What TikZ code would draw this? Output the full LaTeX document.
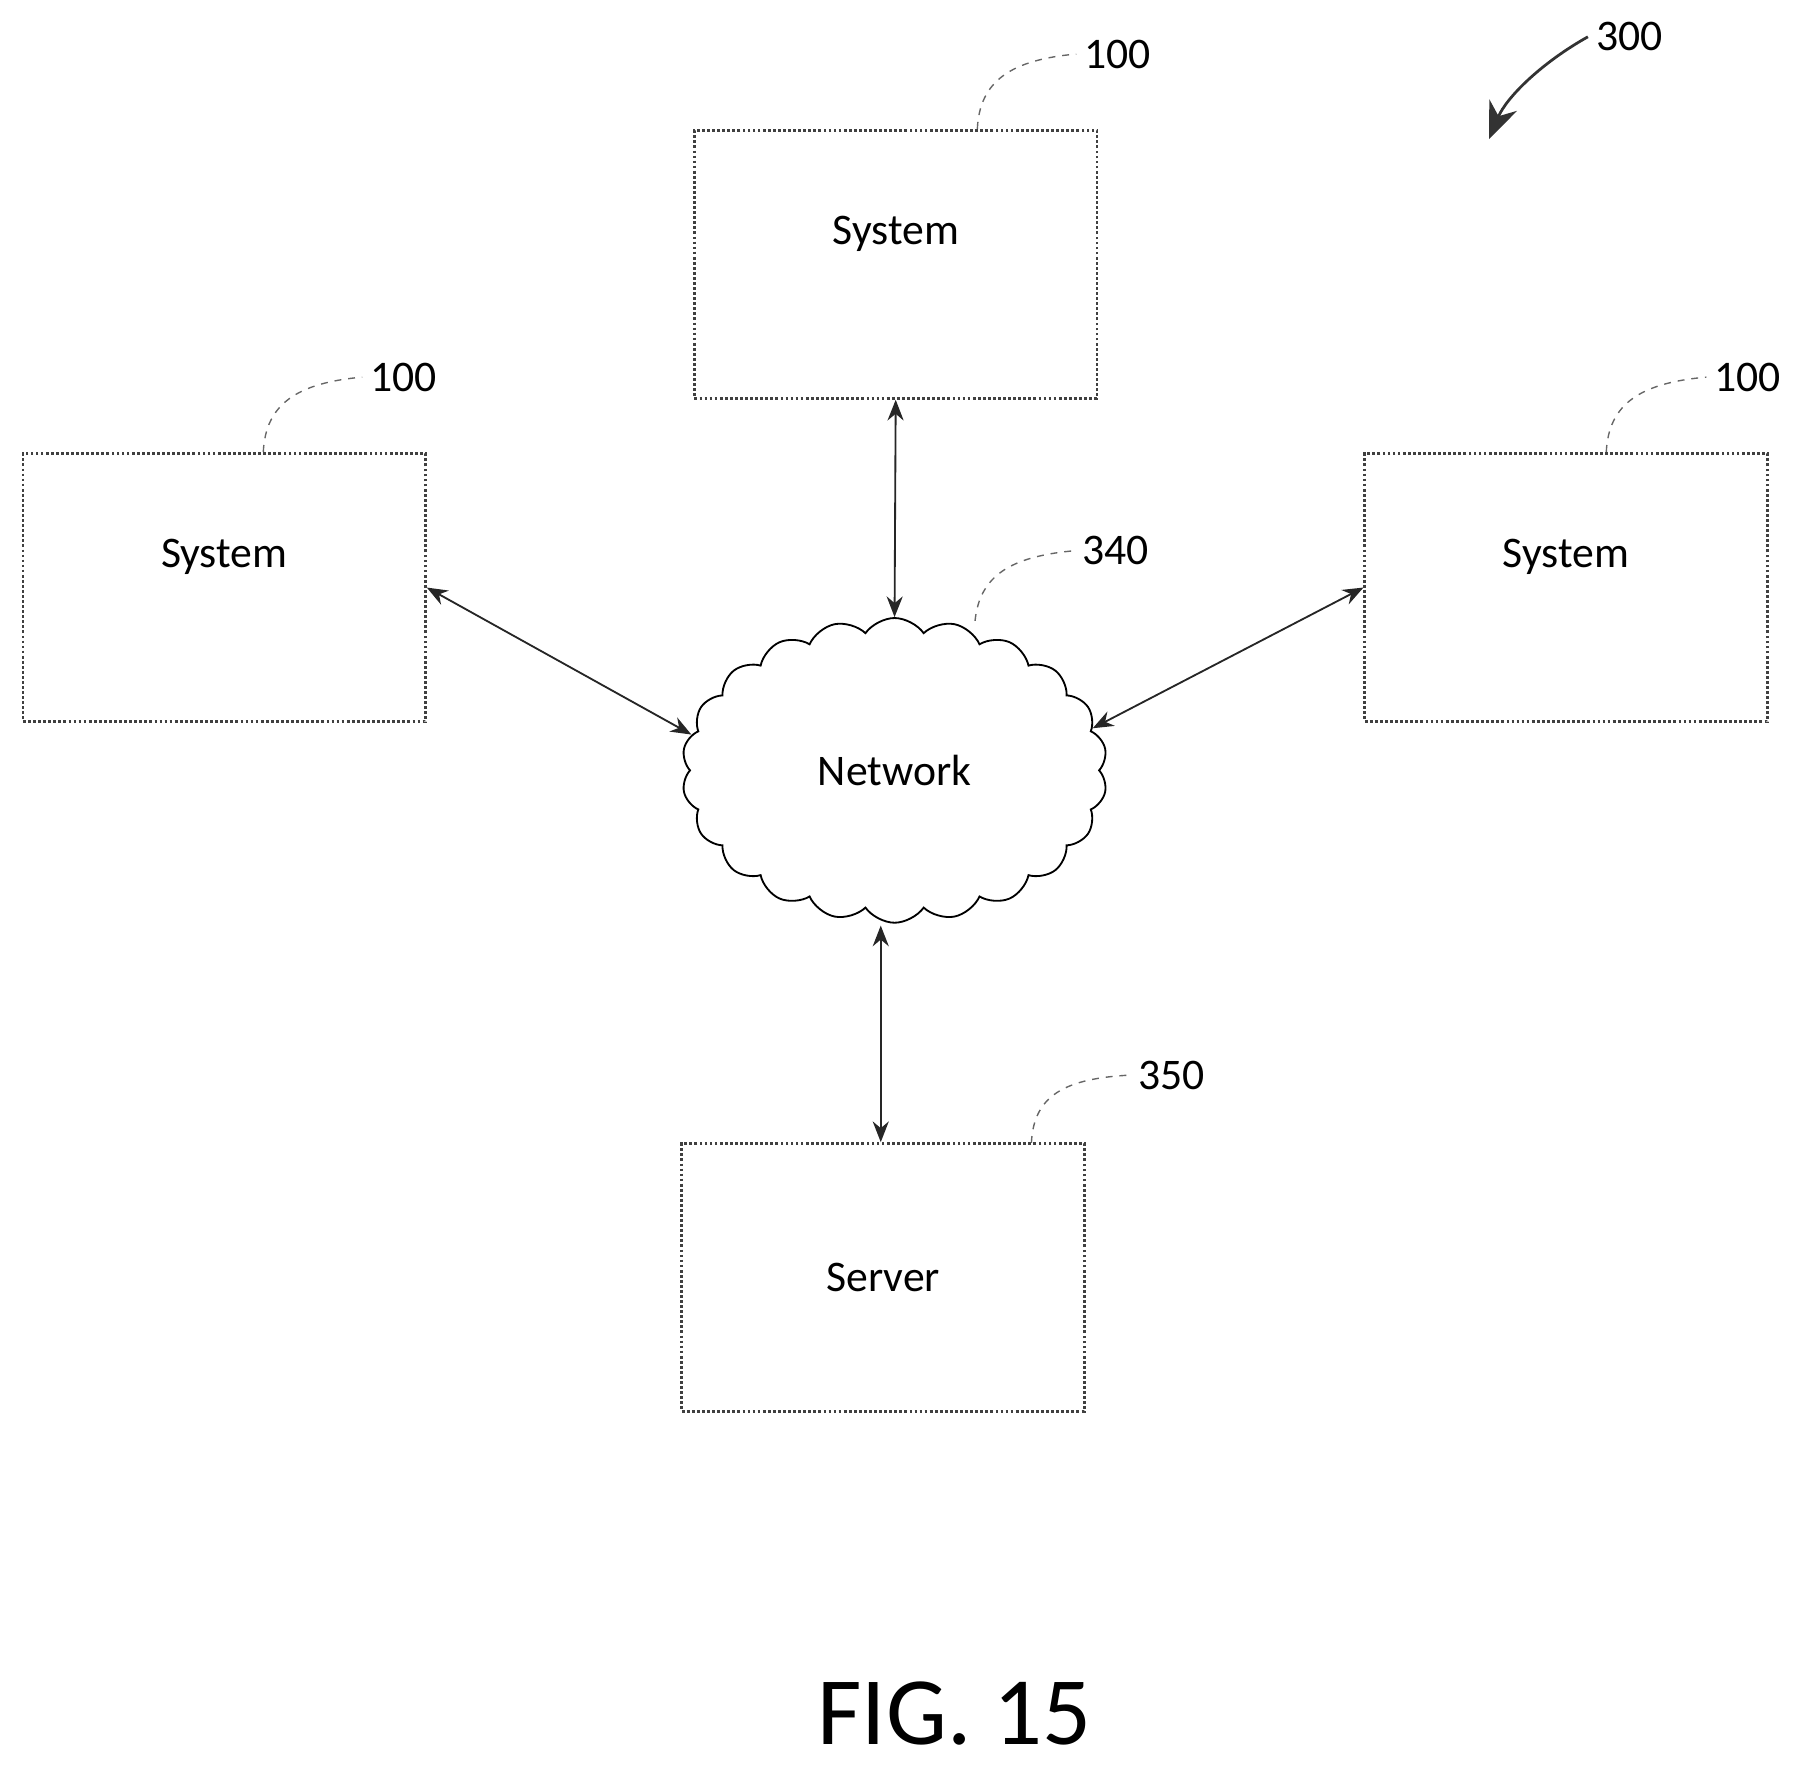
\documentclass[tikz,border=0pt]{standalone}
\usepackage{fontspec}
\setmainfont{Carlito}
\usetikzlibrary{shapes.symbols,arrows.meta}
\tikzset{
  unit/.style={draw=black!75,densely dotted,line width=1.2pt,minimum width=350*0.5pt,minimum height=233*0.5pt,inner sep=0pt},
  lead/.style={draw=black!60,dashed,line width=0.6pt},
  link/.style={{Stealth[length=9pt,width=7pt]}-{Stealth[length=9pt,width=7pt]},line width=0.8pt,black!85},
  ref/.style={font=\fontsize{19}{22}\selectfont,anchor=west}
}
\begin{document}
\begin{tikzpicture}[x=0.5pt,y=0.5pt,yscale=-1,font=\fontsize{19}{22}\selectfont]
\useasboundingbox (0,0) rectangle (1562,1536);

% boxes
\node[unit,label={[anchor=center,yshift=27*0.5pt]center:System}] (sysT) at (779,230) {};
\node[unit,label={[anchor=center,yshift=27*0.5pt]center:System}] (sysL) at (195,511) {};
\node[unit,label={[anchor=center,yshift=27*0.5pt]center:System}] (sysR) at (1362,511) {};
\node[unit] (srv) at (768,1111) {Server};

% network
\node[cloud,draw,line width=0.8pt,cloud puffs=22,cloud puff arc=110,aspect=1.4,minimum width=370*0.5pt,minimum height=265*0.5pt] (net) at (778,670) {Network};

% links
\draw[link] (sysT.south) -- (net.north);
\draw[link] (sysL.east) -- (net.170);
\draw[link] (sysR.west) -- (net.12);
\draw[link] (766,805) -- (srv.north -| 766,0);

% reference numerals
\node[ref] (rT) at (936,47) {100};
\node[ref] (rL) at (315,328) {100};
\node[ref] (rR) at (1484,328) {100};
\node[ref] (rN) at (934,479) {340};
\node[ref] (rS) at (983,935) {350};
\node[ref] (rA) at (1381,32) {300};
\draw[lead] (850,112) .. controls (852,70) and (880,52) .. (rT.west);
\draw[lead] (229,393) .. controls (231,351) and (259,333) .. (rL.west);
\draw[lead] (1397,393) .. controls (1399,351) and (1427,333) .. (rR.west);
\draw[lead] (848,540) .. controls (852,500) and (880,484) .. (rN.west);
\draw[lead] (897,994) .. controls (899,952) and (927,938) .. (rS.west);
\draw[-{Stealth[length=16pt,width=13pt]},line width=1.2pt,black!80] (rA.west) .. controls (1340,55) and (1310,85) .. (1295,121);

\node[font=\fontsize{42}{48}\selectfont,inner sep=0pt] (fig) at (830,1490) {FIG. 15};
\end{tikzpicture}
\end{document}
